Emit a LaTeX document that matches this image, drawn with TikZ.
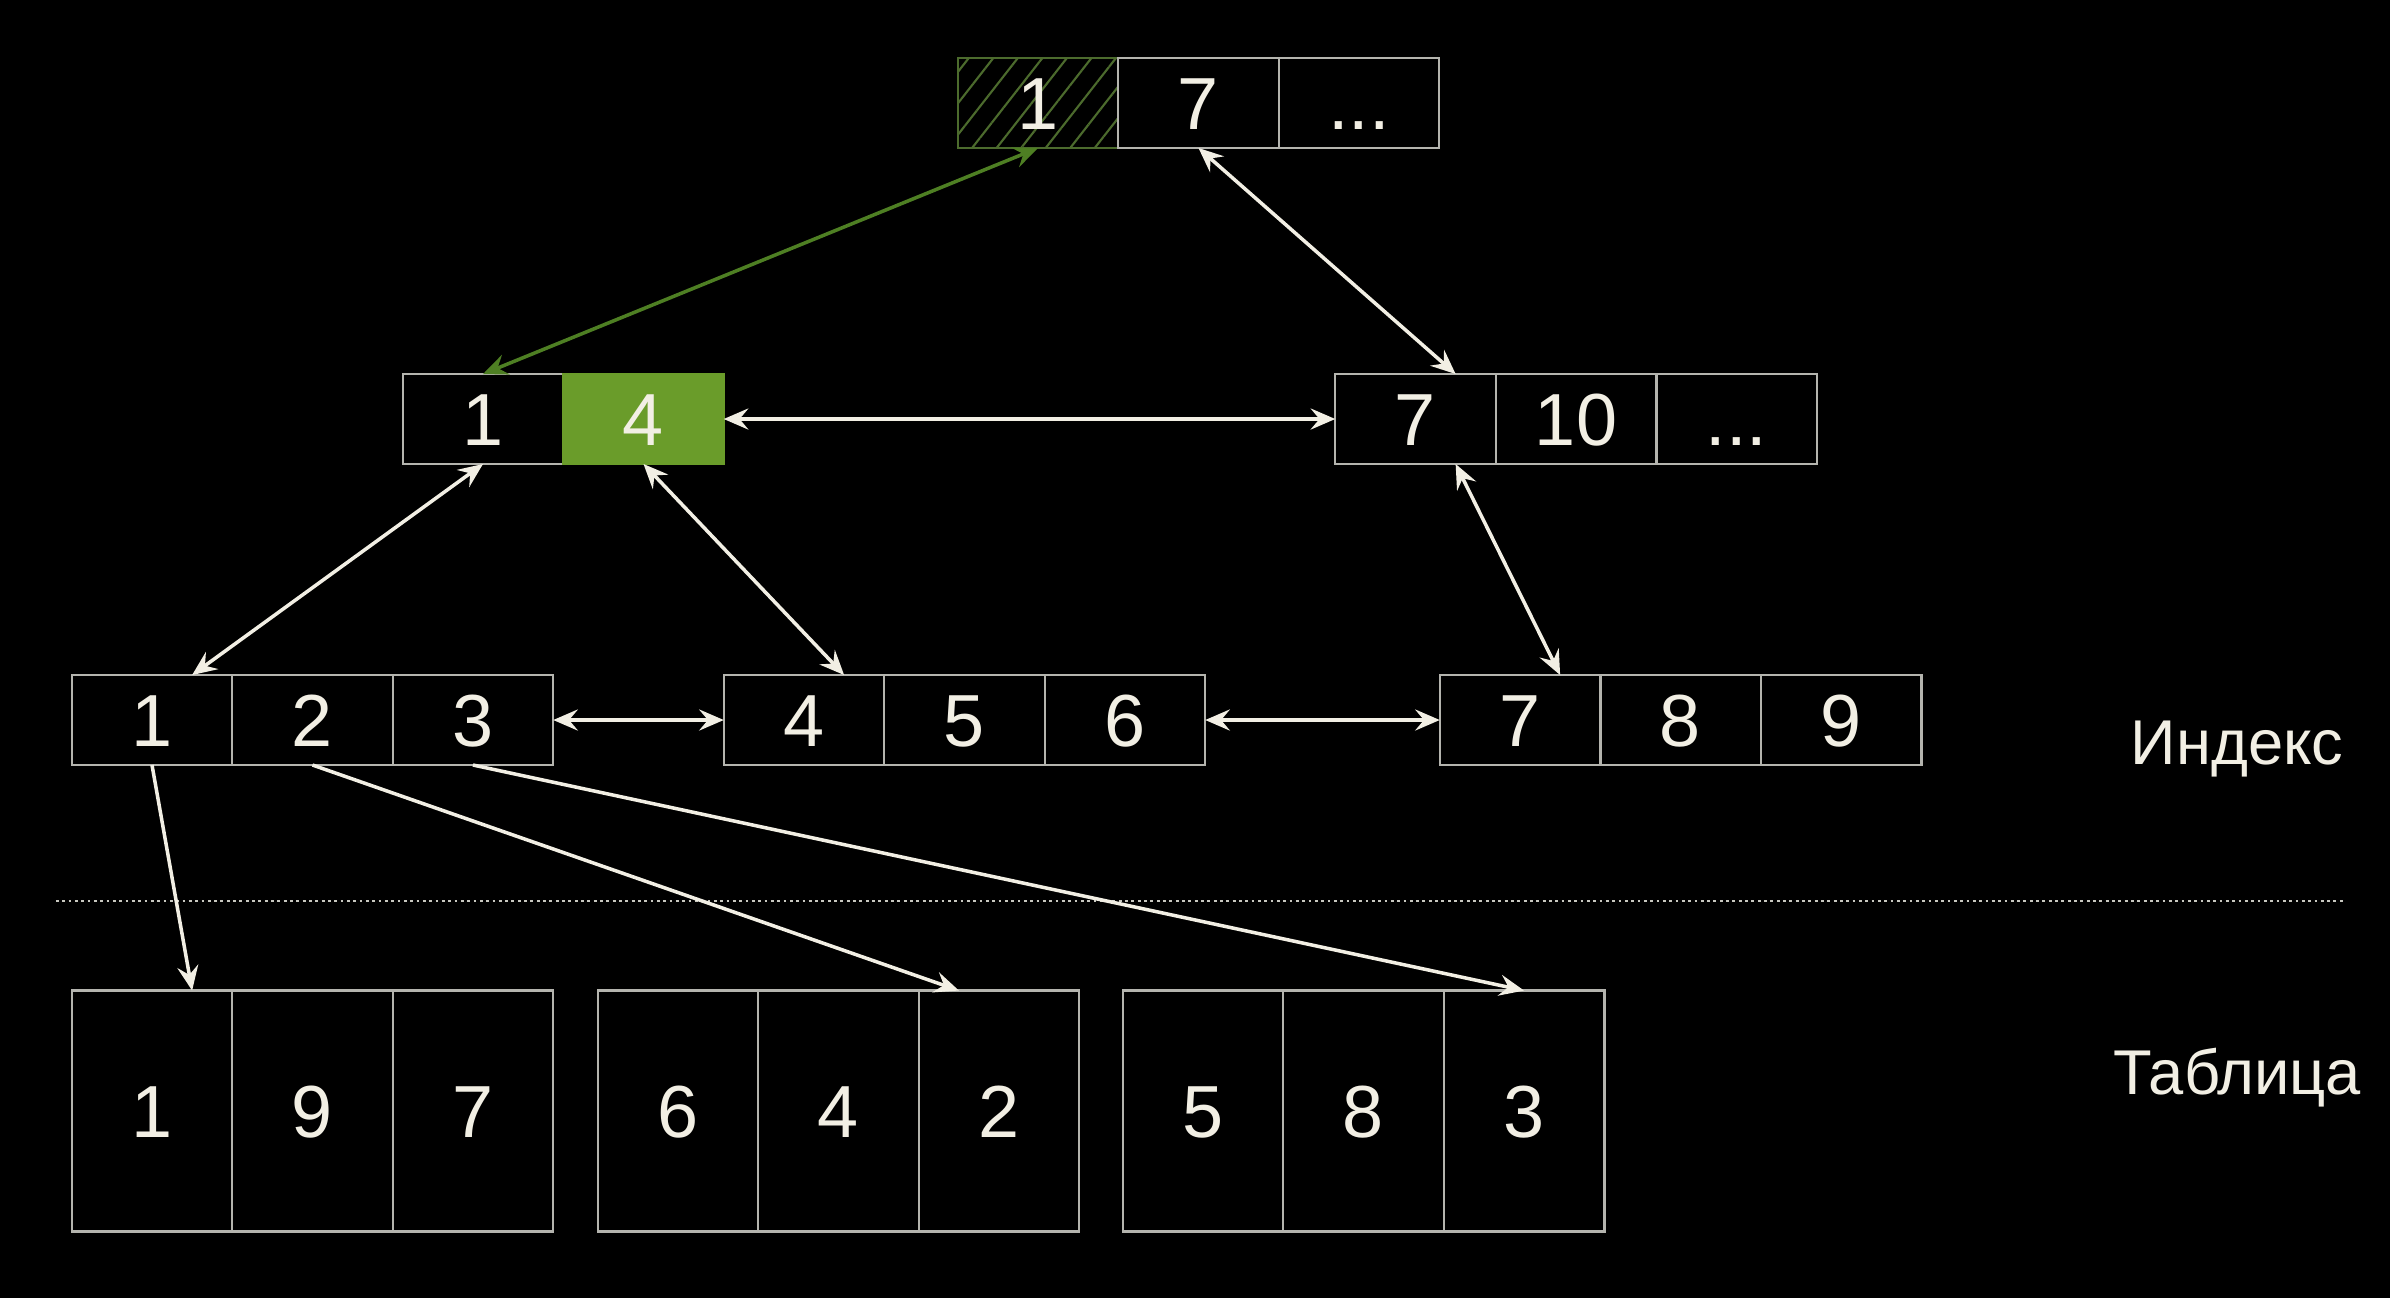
\documentclass[tikz,border=0pt]{standalone}
\usepackage{fontspec}
\setmainfont{Liberation Sans}
\usepackage{tikz}
\usetikzlibrary{positioning,arrows.meta,calc,patterns.meta}

\definecolor{boxgray}{HTML}{B4B4AE}
\definecolor{dotgray}{HTML}{C8C8C0}
\definecolor{chalk}{HTML}{F2EFE4}
\definecolor{leafgreen}{HTML}{6A9C2A}
\definecolor{darkgreen}{HTML}{4E7F23}
\definecolor{hatchgreen}{HTML}{4C6B2D}

\begin{document}
\begin{tikzpicture}[x=1cm, y=-1cm,
    cell/.style={draw=boxgray, line width=0.7pt, minimum width=1.605cm, minimum height=0.9cm,
        inner sep=0pt, outer sep=0pt, text height=15pt, text depth=0pt,
        text=chalk, font=\fontsize{21}{25}\selectfont},
    tabcell/.style={cell, minimum height=2.41cm},
    sidetext/.style={text=chalk, anchor=base, font=\fontsize{18}{22}\selectfont},
    link/.style={chalk, line width=1pt},
    >={Stealth[length=7pt, width=6pt, inset=2.5pt]}]

    \fill[black] (0,0) rectangle (23.9,12.98);

    % root
    \node[cell, draw=hatchgreen, pattern={Lines[angle=52, distance=5.5pt, line width=0.6pt]},
        pattern color=hatchgreen] (r1) at (10.38, 1.03) {1};
    \node[cell] (r2) at (11.985, 1.03) {7};
    \node[cell] (r3) at (13.59, 1.03) {...};

    % inner nodes
    \node[cell] (m1) at (4.83, 4.19) {1};
    \node[cell, fill=leafgreen, draw=leafgreen] (m2) at (6.435, 4.19) {4};
    \node[cell] (n1) at (14.155, 4.19) {7};
    \node[cell] (n2) at (15.76, 4.19) {10};
    \node[cell] (n3) at (17.365, 4.19) {...};

    % leaves
    \node[cell] (a1) at (1.52, 7.20) {1};
    \node[cell] (a2) at (3.125, 7.20) {2};
    \node[cell] (a3) at (4.73, 7.20) {3};
    \node[cell] (b1) at (8.04, 7.20) {4};
    \node[cell] (b2) at (9.645, 7.20) {5};
    \node[cell] (b3) at (11.25, 7.20) {6};
    \node[cell] (c1) at (15.20, 7.20) {7};
    \node[cell] (c2) at (16.805, 7.20) {8};
    \node[cell] (c3) at (18.41, 7.20) {9};

    % table pages
    \node[tabcell] (d1) at (1.52, 11.11) {1};
    \node[tabcell] (d2) at (3.125, 11.11) {9};
    \node[tabcell] (d3) at (4.73, 11.11) {7};
    \node[tabcell] (e1) at (6.78, 11.11) {6};
    \node[tabcell] (e2) at (8.385, 11.11) {4};
    \node[tabcell] (e3) at (9.99, 11.11) {2};
    \node[tabcell] (f1) at (12.03, 11.11) {5};
    \node[tabcell] (f2) at (13.635, 11.11) {8};
    \node[tabcell] (f3) at (15.24, 11.11) {3};

    \node[sidetext] (idx) at (22.37, 7.64) {Индекс};
    \node[sidetext] (tab) at (22.37, 10.94) {Таблица};

    \coordinate (sepL) at (0.56, 9.01);
    \coordinate (sepR) at (23.44, 9.01);
    \draw[dotgray, line width=0.7pt, dash pattern=on 0.8pt off 1pt] (sepL) -- (sepR);

    \path[link, darkgreen, <->] (r1.south) edge (m1.north);

    \path[link, <->]
        (r2.south) edge ($(n1.north)!.5!(n1.north east)$)
        (m2.east) edge (n1.west)
        (m1.south) edge ($(a1.north)!.5!(a1.north east)$)
        (m2.south) edge ($(b1.north)!.5!(b1.north east)$)
        ($(n1.south)!.5!(n1.south east)$) edge ($(c1.north)!.5!(c1.north east)$)
        (a3.east) edge (b1.west)
        (b3.east) edge (c1.west);

    \path[link, ->]
        (a1.south) edge ($(d1.north)!.5!(d1.north east)$)
        (a2.south) edge ($(e3.north)!.5!(e3.north west)$)
        (a3.south) edge (f3.north);
\end{tikzpicture}
\end{document}
